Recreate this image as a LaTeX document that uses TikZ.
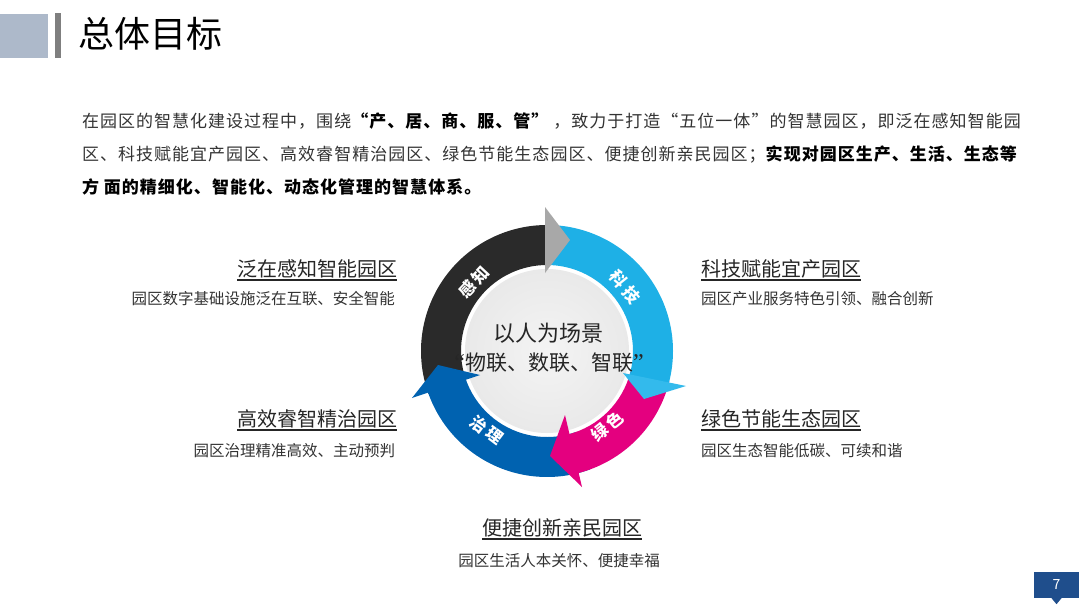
\documentclass[tikz,border=0pt]{standalone}
\usepackage{fontspec}
\setmainfont{Noto Sans CJK SC}
\newfontfamily\parafont[LetterSpace=6]{Noto Sans CJK SC}
\newfontfamily\quotefont{Liberation Serif}
\definecolor{hdrbox}{HTML}{ADB9CA}
\definecolor{hdrbar}{HTML}{7F7F7F}
\definecolor{ringblack}{HTML}{2A2A2A}
\definecolor{ringgray}{HTML}{A8A8A8}
\definecolor{ringcyan}{HTML}{1EB0E6}
\definecolor{ringcyanhead}{HTML}{33BAEC}
\definecolor{ringmag}{HTML}{E4007F}
\definecolor{ringblue}{HTML}{0062B0}
\definecolor{txtdark}{HTML}{262626}
\definecolor{txtsub}{HTML}{333333}
\definecolor{pagebox}{HTML}{1F4E8C}
\definecolor{discin}{HTML}{F4F4F4}
\definecolor{discout}{HTML}{E9E9E9}
\begin{document}
\begin{tikzpicture}[x=1pt,y=-1pt,
  txt/.style={inner sep=0pt, outer sep=0pt},
  para/.style={txt, anchor=base west, text=txtsub, font=\parafont\fontsize{17}{20}\selectfont},
  heading/.style={txt, text=txtdark, font=\fontsize{20}{24}\selectfont},
  subtext/.style={txt, text=txtsub, font=\fontsize{15.5}{18}\selectfont},
  seglabel/.style={txt, text=white, font=\bfseries\fontsize{16.5}{18}\selectfont},
  centertext/.style={txt, anchor=base, text=txtdark, font=\fontsize{22}{26}\selectfont},
  uline/.style={line width=1.3pt, txtdark}]
\useasboundingbox (0,0) rectangle (1080,608);
\fill[white] (0,0) rectangle (1080,608);

% header
\fill[hdrbox] (0,14) rectangle (48,58);
\fill[hdrbar] (55,13) rectangle (61,58);
\node[txt, anchor=base west, font=\fontsize{36}{40}\selectfont, text=black] (title) at (78,47) {总体目标};

% paragraph
\node[para] (p1) at (82,127) {在园区的智慧化建设过程中，围绕{\bfseries\color{black}“产、居、商、服、管”} ，致力于打造“五位一体”的智慧园区，即泛在感知智能园};
\node[para] (p2) at (82,160) {区、科技赋能宜产园区、高效睿智精治园区、绿色节能生态园区、便捷创新亲民园区；{\bfseries\color{black}实现对园区生产、生活、生态等}};
\node[para] (p3) at (82,193) {\bfseries\color{black}方 面的精细化、智能化、动态化管理的智慧体系。};

% ring
\begin{scope}[shift={(547pt,-351pt)}, y=1pt]
  \fill[white] (0,0) circle[radius=86];
  \shade[inner color=discin, outer color=discout] (0,0) circle[radius=82];
  % bodies
  \fill[ringblack] (90:126) arc[start angle=90,end angle=200,radius=126] -- (200:86) arc[start angle=200,end angle=90,radius=86] -- cycle;
  \fill[ringblue] (-70:126) arc[start angle=-70,end angle=-162,radius=126] -- (-162:86) arc[start angle=-162,end angle=-70,radius=86] -- cycle;
  \fill[ringmag] (-14:126) arc[start angle=-14,end angle=-76,radius=126] -- (-76:86) arc[start angle=-76,end angle=-14,radius=86] -- cycle;
  \fill[ringcyan] (90:126) arc[start angle=90,end angle=-18,radius=126] -- (-18:86) arc[start angle=-18,end angle=90,radius=86] -- cycle;
  % heads
  \fill[ringgray] (-2,144) -- (23,111) -- (-2,78) -- cycle;
  \fill[ringcyanhead] (76,-22) -- (139,-35) -- (97,-48) -- cycle;
  \fill[ringmag] (18,-64) -- (3,-105) -- (35,-136) -- cycle;
  \fill[ringblue] (-67,-24) -- (-109,-14) -- (-135,-47) -- cycle;
\end{scope}

% ring labels
\node[seglabel, rotate=47] (lab1) at (474,282) {感\hspace{3pt}知};
\node[seglabel, rotate=-51] (lab2) at (625,287) {科\hspace{3pt}技};
\node[seglabel, rotate=39] (lab3) at (607,426) {绿\hspace{3pt}色};
\node[seglabel, rotate=-37] (lab4) at (487,430) {治\hspace{3pt}理};

% center text
\node[centertext] (c1) at (548,341) {以人为场景};
\node[centertext, font=\fontsize{21}{26}\selectfont] (c2) at (549,370) {{\quotefont\fontsize{24}{26}\selectfont “}物联、数联、智联{\quotefont\fontsize{24}{26}\selectfont ”}};

% side texts
\node[heading, anchor=base east] (h1) at (397,276) {泛在感知智能园区};
\draw[uline] ([yshift=-4pt]h1.base west) -- ([yshift=-4pt]h1.base east);
\node[subtext, anchor=base east] (s1) at (395,304) {园区数字基础设施泛在互联、安全智能};

\node[heading, anchor=base west] (h2) at (701,276) {科技赋能宜产园区};
\draw[uline] ([yshift=-4pt]h2.base west) -- ([yshift=-4pt]h2.base east);
\node[subtext, anchor=base west] (s2) at (701,304) {园区产业服务特色引领、融合创新};

\node[heading, anchor=base east] (h3) at (397,426) {高效睿智精治园区};
\draw[uline] ([yshift=-4pt]h3.base west) -- ([yshift=-4pt]h3.base east);
\node[subtext, anchor=base east] (s3) at (395,456.5) {园区治理精准高效、主动预判};

\node[heading, anchor=base west] (h4) at (701,426) {绿色节能生态园区};
\draw[uline] ([yshift=-4pt]h4.base west) -- ([yshift=-4pt]h4.base east);
\node[subtext, anchor=base west] (s4) at (701,456.5) {园区生态智能低碳、可续和谐};

\node[heading, anchor=base] (h5) at (562,535) {便捷创新亲民园区};
\draw[uline] ([yshift=-4pt]h5.base west) -- ([yshift=-4pt]h5.base east);
\node[subtext, anchor=base] (s5) at (559,566.5) {园区生活人本关怀、便捷幸福};

% page number
\node[fill=pagebox, minimum width=45pt, minimum height=26pt, inner sep=0pt, text=white, font=\fontsize{14}{16}\selectfont] (pg) at (1056.5,585) {7};
\fill[pagebox] ([xshift=-5pt]pg.south) -- ([xshift=5pt]pg.south) -- ([yshift=-6pt]pg.south) -- cycle;
\end{tikzpicture}
\end{document}
